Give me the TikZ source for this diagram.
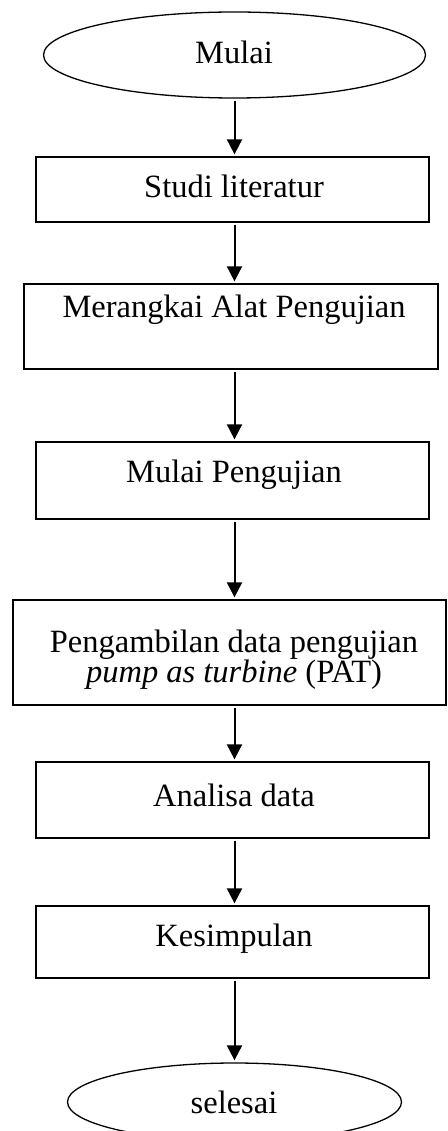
\documentclass[tikz,border=0pt]{standalone}
\usepackage{fontspec}
\setmainfont{Liberation Serif}
\usetikzlibrary{shapes.geometric,arrows.meta}

\begin{document}
\begin{tikzpicture}[x=1pt,y=-1pt,
  box/.style={draw, line width=1.3pt, rectangle, inner sep=0pt},
  oval/.style={draw, line width=1.3pt, ellipse, inner sep=0pt},
  txt/.style={font=\fontsize{32.5}{30}\selectfont, anchor=base, inner sep=0pt},
  flow/.style={-{Triangle[width=15pt,length=15pt]}, line width=2pt,
               shorten <=2pt, shorten >=2pt}]
\useasboundingbox (0,0) rectangle (447,1131);

% terminals and process boxes
\node[oval, minimum width=382pt, minimum height=86pt] (start) at (234.5,55) {};
\node[box, minimum width=393pt, minimum height=65pt] (studi) at (232.5,189.5) {};
\node[box, minimum width=414pt, minimum height=85pt] (rangkai) at (231,326.5) {};
\node[box, minimum width=393pt, minimum height=77pt] (uji) at (232.5,480.5) {};
\node[box, minimum width=433pt, minimum height=105pt] (ambil) at (229.5,652.5) {};
\node[box, minimum width=393pt, minimum height=76pt] (analisa) at (232.5,800) {};
\node[box, minimum width=393pt, minimum height=72pt] (simpul) at (232.5,942) {};
\node[oval, minimum width=334pt, minimum height=78pt] (stop) at (234.5,1102) {};

% labels
\node[txt] (tstart) at (234,64) {Mulai};
\node[txt] (tstudi) at (234,198) {Studi literatur};
\node[txt] (trangkai) at (234,317) {Merangkai Alat Pengujian};
\node[txt] (tuji) at (234,482) {Mulai Pengujian};
\node[txt] (tambil1) at (234,652) {Pengambilan data pengujian};
\node[txt] (tambil2) at (234,682) {\textit{pump as turbine} (PAT)};
\node[txt] (tanalisa) at (234,806) {Analisa data};
\node[txt] (tsimpul) at (234,946) {Kesimpulan};
\node[txt] (tstop) at (234,1113) {selesai};

% flow arrows
\draw[flow] (start.south) -- (start.south |- studi.north);
\draw[flow] (studi.south -| start) -- (rangkai.north -| start);
\draw[flow] (rangkai.south -| start) -- (uji.north -| start);
\draw[flow] (uji.south -| start) -- (ambil.north -| start);
\draw[flow] (ambil.south -| start) -- (analisa.north -| start);
\draw[flow] (analisa.south -| start) -- (simpul.north -| start);
\draw[flow] (simpul.south -| start) -- (stop.north);
\end{tikzpicture}
\end{document}
